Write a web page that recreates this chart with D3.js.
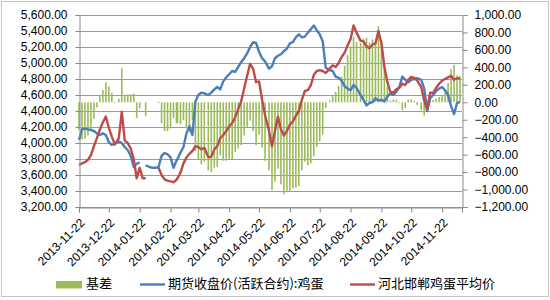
<!DOCTYPE html>
<html>
<head>
<meta charset="utf-8">
<script src="https://cdn.jsdelivr.net/npm/d3@7"></script>
<style>
  body { margin: 0; background: #fff; }
  svg { display: block; font-family: "Liberation Sans", Arial, sans-serif; }
</style>
</head>
<body>
<svg id="chart" width="550" height="300"></svg>
<script>
// ===== DATA =====
const dates = [
  "2013-11-22","2013-11-25","2013-11-28",
  "2013-12-01","2013-12-04","2013-12-07","2013-12-10","2013-12-13","2013-12-16","2013-12-19","2013-12-22","2013-12-25","2013-12-28",
  "2014-01-01","2014-01-04","2014-01-07","2014-01-10","2014-01-13","2014-01-16","2014-01-19","2014-01-22","2014-01-25","2014-01-28",
  "2014-02-01","2014-02-04","2014-02-07","2014-02-10","2014-02-13","2014-02-16","2014-02-19","2014-02-22","2014-02-25","2014-02-28",
  "2014-03-01","2014-03-04","2014-03-07","2014-03-10","2014-03-13","2014-03-16","2014-03-19","2014-03-22","2014-03-25","2014-03-28",
  "2014-04-01","2014-04-04","2014-04-07","2014-04-10","2014-04-13","2014-04-16","2014-04-19","2014-04-22","2014-04-25","2014-04-28",
  "2014-05-01","2014-05-04","2014-05-07","2014-05-10","2014-05-13","2014-05-16","2014-05-19","2014-05-22","2014-05-25","2014-05-28",
  "2014-06-01","2014-06-04","2014-06-07","2014-06-10","2014-06-13","2014-06-16","2014-06-19","2014-06-22","2014-06-25","2014-06-28",
  "2014-07-01","2014-07-04","2014-07-07","2014-07-10","2014-07-13","2014-07-16","2014-07-19","2014-07-22","2014-07-25","2014-07-28",
  "2014-08-01","2014-08-04","2014-08-07","2014-08-10","2014-08-13","2014-08-16","2014-08-19","2014-08-22","2014-08-25","2014-08-28",
  "2014-09-01","2014-09-04","2014-09-07","2014-09-10","2014-09-13","2014-09-16","2014-09-19","2014-09-22","2014-09-25","2014-09-28",
  "2014-10-01","2014-10-04","2014-10-07","2014-10-10","2014-10-13","2014-10-16","2014-10-19","2014-10-22","2014-10-25","2014-10-28",
  "2014-11-01","2014-11-04","2014-11-07","2014-11-10","2014-11-13","2014-11-16","2014-11-19","2014-11-22","2014-11-25","2014-11-28",
  "2014-12-01","2014-12-04","2014-12-07","2014-12-10"
];

// 期货收盘价(活跃合约):鸡蛋 (left axis)
const futures = [
  4040, 4170, 4180,
  4170, 4160, 4150, 4120, 4100, 4120, 4100, 4010, 3975, 3990,
  4020, 4000, 3950, 3910, 3840, 3700, 3740, 3760, null, 3720,
  3700, 3690, 3690, 3700, 3840, 3875, 3860, 3820, 3690, 3780,
  3800, 3880, 3950, 4120, 4210, 4100, 4520, 4600, 4630, 4620,
  4600, 4630, 4670, 4700, 4670, 4770, 4820, 4860, 4900, 4890,
  4950, 5010, 5060, 5120, 5200, 5260, 5250, 5140, 5060, 5020,
  4930, 4960, 5060, 5090, 5110, 5150, 5180, 5245, 5260, 5320,
  5360, 5320, 5330, 5380, 5420, 5470, 5410, 5360, 5270, 4940,
  4910, 4900, 4830, 4815, 4780, 4710, 4680, 4660, 4725, 4690,
  4600, 4540, 4470, 4500, 4510, 4560, 4530, 4540, 4520, 4580,
  4620, 4600, 4640, 4700, 4830, 4790, 4760, 4790, 4800, 4810,
  4790, 4680, 4400, 4560, 4600, 4650, 4680, 4700, 4660, 4600,
  4460, 4360, 4500, 4510
];

// 河北邯郸鸡蛋平均价 (left axis)
const spot = [
  3725, 3745, 3760,
  3790, 3850, 3960, 4060, 4170, 4260, 4330, 4190, 4080, 3980,
  4060, 4390, 4030, 4000, 3930, 3800, 3560, 3690, 3560, 3560,
  null, null, null, 3690, 3600, 3545, 3530, 3520, 3510, 3540,
  3560, 3630, 3745, 3820, 3865, 3900, 3960, 3950, 3920, 3940,
  3820, 3830, 3920, 3960, 4060, 4100, 4150, 4210, 4250, 4320,
  4420, 4520, 4680, 4840, 4990, 4930, 4760, 4770, 4540, 4350,
  4150, 3955, 4150, 4330, 4170, 4095, 4150, 4230, 4270, 4340,
  4400, 4540, 4650, 4660, 4720, 4850, 4900, 4910, 4900, 4875,
  4930, 4970, 4950, 5000, 5075, 5130, 5220, 5300, 5470, 5380,
  5280, 5270, 5210, 5185, 5230, 5245, 5400, 5250, 4950, 4760,
  4640, 4630, 4670, 4690, 4740, 4725, 4790, 4825, 4815, 4780,
  4700, 4530, 4420, 4630, 4625, 4690, 4740, 4780, 4800, 4820,
  4840, 4790, 4810, 4810
];

// 基差 (right axis)
const basis = [
  -315, -425, -420,
  -380, -310, -190, -60, 70, 140, 230, 180, 105, -10,
  40, 390, 80, 90, 90, 100, -180, -70, null, -160,
  null, null, null, -10, -240, -330, -330, -300, -180, -240,
  -240, -250, -205, -300, -345, -200, -560, -650, -710, -680,
  -780, -800, -750, -740, -610, -670, -670, -650, -650, -570,
  -530, -490, -380, -280, -210, -330, -490, -370, -520, -670,
  -780, -1005, -910, -760, -940, -1055, -1030, -1015, -990, -980,
  -960, -780, -680, -720, -700, -620, -510, -450, -370, -65,
  20, 70, 120, 185, 295, 420, 540, 640, 745, 690,
  680, 730, 740, 685, 720, 685, 870, 710, 430, 180,
  20, 30, 30, -10, -90, -65, 30, 35, 15, -30,
  -90, -150, 20, 70, 25, 40, 60, 80, 140, 220,
  380, 430, 310, 300
];

const xTickLabels = ["2013-11-22","2013-12-22","2014-01-22","2014-02-22","2014-03-22","2014-04-22",
  "2014-05-22","2014-06-22","2014-07-22","2014-08-22","2014-09-22","2014-10-22","2014-11-22"];
const leftTicks = [3200, 3400, 3600, 3800, 4000, 4200, 4400, 4600, 4800, 5000, 5200, 5400, 5600];
const rightTicks = [-1200, -1000, -800, -600, -400, -200, 0, 200, 400, 600, 800, 1000];

const seriesNames = ["基差", "期货收盘价(活跃合约):鸡蛋", "河北邯郸鸡蛋平均价"];

// ===== CHART =====
const parse = d3.utcParse("%Y-%m-%d");
const svg = d3.select("#chart");

const plotLeft = 79, plotRight = 462, plotTop = 15, plotBottom = 207;

const x = d3.scaleUtc()
  .domain([parse("2013-11-22"), parse("2014-12-12")])
  .range([plotLeft, plotRight]);
const yL = d3.scaleLinear().domain([3200, 5600]).range([plotBottom, plotTop]);
const yR = d3.scaleLinear().domain([-1200, 1000]).range([plotBottom, plotTop]);

// outer border
svg.append("rect")
  .attr("x", 1.5).attr("y", 1.5).attr("width", 547).attr("height", 295)
  .attr("fill", "none").attr("stroke", "#c4c4c4");

// gridlines
svg.append("g")
  .selectAll("line")
  .data(leftTicks)
  .join("line")
  .attr("x1", plotLeft).attr("x2", plotRight)
  .attr("y1", d => Math.round(yL(d)) + 0.5).attr("y2", d => Math.round(yL(d)) + 0.5)
  .attr("stroke", "#9a9a9a");

// basis bars
const parsedDates = dates.map(parse);
const zero = yR(0);
svg.append("g")
  .selectAll("rect")
  .data(basis.map((v, i) => ({ d: parsedDates[i], v })).filter(p => p.v != null))
  .join("rect")
  .attr("x", p => x(p.d) - 0.8)
  .attr("width", 1.6)
  .attr("y", p => Math.min(zero, yR(p.v)))
  .attr("height", p => Math.abs(yR(p.v) - zero))
  .attr("fill", "#9bbb59");

const line = (scale) => d3.line()
  .defined(p => p.v != null)
  .x(p => x(p.d))
  .y(p => scale(p.v));

svg.append("path")
  .datum(futures.map((v, i) => ({ d: parsedDates[i], v })))
  .attr("fill", "none")
  .attr("stroke", "#4a7ebb")
  .attr("stroke-width", 2.4)
  .attr("stroke-linejoin", "round")
  .attr("d", line(yL));

svg.append("path")
  .datum(spot.map((v, i) => ({ d: parsedDates[i], v })))
  .attr("fill", "none")
  .attr("stroke", "#be4b48")
  .attr("stroke-width", 2.4)
  .attr("stroke-linejoin", "round")
  .attr("d", line(yL));

// axes
const fmt = d3.format(",.2f");

const gLeft = svg.append("g")
  .attr("transform", `translate(${plotLeft + 0.5},0)`)
  .call(d3.axisLeft(yL).tickValues(leftTicks).tickFormat(fmt).tickSize(4).tickPadding(8));

const gRight = svg.append("g")
  .attr("transform", `translate(${plotRight + 0.5},0)`)
  .call(d3.axisRight(yR).tickValues(rightTicks).tickFormat(fmt).tickSize(5).tickPadding(7));

const gBottom = svg.append("g")
  .attr("transform", `translate(0,${plotBottom + 0.5})`)
  .call(d3.axisBottom(x).tickValues(xTickLabels.map(parse)).tickFormat(d3.utcFormat("%Y-%m-%d")).tickSize(5));

gBottom.selectAll("text")
  .attr("text-anchor", "end")
  .attr("x", 0).attr("y", 0).attr("dy", "0.35em")
  .attr("transform", "translate(3,13) rotate(-45)");

[gLeft, gRight, gBottom].forEach(g => {
  g.select(".domain").attr("stroke", "#8a8a8a");
  g.selectAll(".tick line").attr("stroke", "#8a8a8a");
  g.selectAll("text").attr("font-size", 12).attr("fill", "#000")
    .attr("font-family", "'Liberation Sans', Arial, sans-serif");
});

// legend
const legend = svg.append("g")
  .attr("font-family", "'Noto Sans CJK SC', sans-serif")
  .attr("font-size", 13);

legend.append("rect")
  .attr("x", 56).attr("y", 281).attr("width", 26).attr("height", 7.5)
  .attr("fill", "#9bbb59");
legend.append("text").attr("x", 86).attr("y", 288).text(seriesNames[0]);

legend.append("line")
  .attr("x1", 140).attr("x2", 165).attr("y1", 284.5).attr("y2", 284.5)
  .attr("stroke", "#4a7ebb").attr("stroke-width", 2.4);
legend.append("text").attr("x", 168).attr("y", 288).text(seriesNames[1]);

legend.append("line")
  .attr("x1", 350).attr("x2", 375).attr("y1", 284.5).attr("y2", 284.5)
  .attr("stroke", "#be4b48").attr("stroke-width", 2.4);
legend.append("text").attr("x", 378).attr("y", 288).text(seriesNames[2]);
</script>
</body>
</html>
